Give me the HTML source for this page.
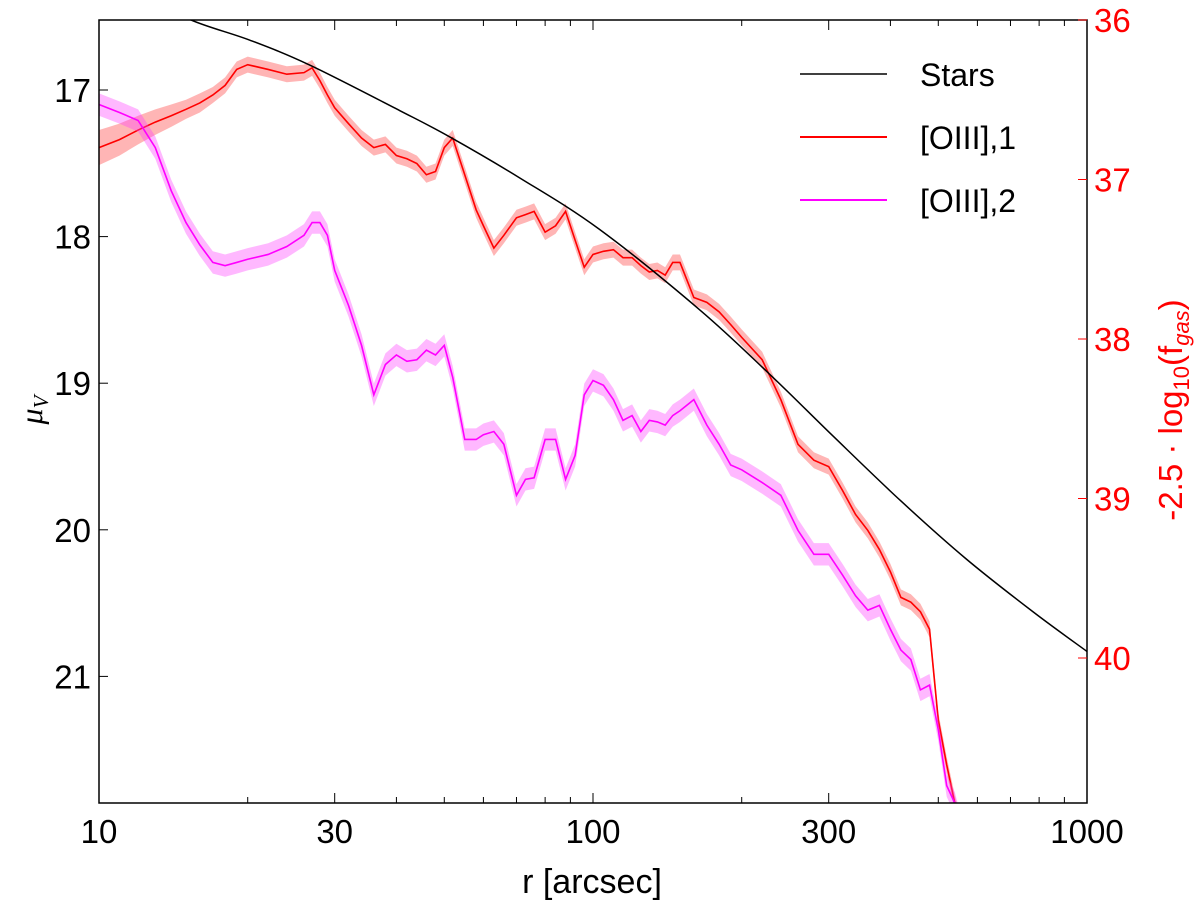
<!DOCTYPE html>
<html><head><meta charset="utf-8"><style>
body{margin:0;background:#fff}
svg{display:block;font-family:"Liberation Sans",sans-serif}
</style></head><body>
<svg id="c" width="1200" height="903"></svg>
<script>
const radii=[10,11,12,13,14,15,16,17,18,19,20,22,24,26,27,28,29,30,32,34,36,38,40,42,44,46,48,50,52,55,58,60,63,66,70,73,76,80,84,88,92,96,100,105,110,115,120,125,130,135,140,145,150,160,170,180,190,200,220,240,260,280,300,320,340,360,380,400,420,440,460,480,500,520,540,560];
const oiii1=[36.80,36.75,36.69,36.64,36.60,36.56,36.52,36.47,36.41,36.31,36.28,36.31,36.34,36.33,36.30,36.38,36.47,36.55,36.65,36.74,36.80,36.78,36.85,36.87,36.90,36.97,36.95,36.80,36.74,36.97,37.19,37.29,37.43,37.35,37.24,37.22,37.20,37.33,37.29,37.20,37.38,37.55,37.47,37.45,37.44,37.49,37.49,37.54,37.58,37.57,37.60,37.52,37.52,37.74,37.77,37.83,37.91,37.99,38.13,38.38,38.66,38.76,38.80,38.95,39.10,39.20,39.32,39.46,39.62,39.65,39.71,39.82,40.39,40.67,40.91,41.1];
const oiii2=[36.53,36.58,36.63,36.80,37.07,37.27,37.41,37.52,37.54,37.52,37.50,37.47,37.42,37.35,37.27,37.27,37.35,37.57,37.79,38.04,38.35,38.16,38.10,38.14,38.13,38.07,38.10,38.04,38.24,38.63,38.63,38.60,38.58,38.66,38.98,38.88,38.87,38.63,38.63,38.88,38.73,38.35,38.26,38.29,38.38,38.51,38.48,38.58,38.51,38.52,38.54,38.48,38.45,38.38,38.54,38.66,38.79,38.82,38.90,38.98,39.20,39.35,39.35,39.48,39.61,39.70,39.67,39.82,39.95,40.01,40.20,40.17,40.45,40.80,40.91,41.1];
const err1=[0.11,0.10,0.09,0.08,0.07,0.06,0.06,0.05,0.05,0.05,0.05,0.05,0.05,0.05,0.05,0.05,0.05,0.05,0.05,0.05,0.05,0.05,0.05,0.05,0.05,0.05,0.05,0.05,0.05,0.05,0.05,0.05,0.05,0.05,0.05,0.05,0.05,0.05,0.05,0.05,0.05,0.05,0.05,0.05,0.05,0.05,0.05,0.05,0.05,0.05,0.05,0.05,0.05,0.05,0.05,0.05,0.05,0.05,0.05,0.05,0.05,0.05,0.05,0.05,0.05,0.05,0.05,0.05,0.05,0.05,0.05,0.05,0.05,0.05,0.05,0.05];
const err2=0.07;
const starR=[12,15.3,20.2,26.7,40.6,51.3,71.1,103,164.5,228,306,419,570,778,1000];
const starMu=[16.33,16.52,16.66,16.83,17.14,17.32,17.60,17.95,18.50,18.94,19.36,19.80,20.20,20.56,20.83];
const xTicks=[10,30,100,300,1000];
const leftTicks=[17,18,19,20,21];
const rightTicks=[36,37,38,39,40];

const L=99,R=1087,T=20,B=803;
const xs=r=>L+(R-L)*(Math.log10(r)-1)/2;
const yl=m=>90+(m-17)*146.6;
const yr=v=>20+(v-36)*159.5;
const NS="http://www.w3.org/2000/svg";
const svg=document.getElementById('c');
function mk(t,a,p){const e=document.createElementNS(NS,t);for(const k in a)e.setAttribute(k,a[k]);(p||svg).appendChild(e);return e;}
const defs=mk('defs',{});const cp=mk('clipPath',{id:'cl'},defs);mk('rect',{x:L,y:T,width:R-L,height:B-T},cp);
const g=mk('g',{'clip-path':'url(#cl)'});
const ev=(e,i)=>Array.isArray(e)?e[i]:e;
function band(vals,err,fill,stroke,name){
  let up=radii.map((r,i)=>xs(r)+','+yr(vals[i]-ev(err,i)));
  let dn=radii.map((r,i)=>xs(r)+','+yr(vals[i]+ev(err,i))).reverse();
  const b=mk('polygon',{points:up.concat(dn).join(' '),fill:fill,'fill-opacity':0.35},g);
  
  
  const l=mk('polyline',{points:radii.map((r,i)=>xs(r)+','+yr(vals[i])).join(' '),fill:'none',stroke:stroke,'stroke-width':1.6},g);
  
  
}
band(oiii1,err1,'#ff2a2a','#ff0000','oiii1');
band(oiii2,err2,'#ff33ff','#ff00ff','oiii2');
const P=starR.map((r,i)=>[xs(r),yl(starMu[i])]);
let d='M'+P[0][0]+','+P[0][1];
for(let i=0;i<P.length-1;i++){const p0=P[Math.max(0,i-1)],p1=P[i],p2=P[i+1],p3=P[Math.min(P.length-1,i+2)];
  d+=' C'+(p1[0]+(p2[0]-p0[0])/6)+','+(p1[1]+(p2[1]-p0[1])/6)+' '+(p2[0]-(p3[0]-p1[0])/6)+','+(p2[1]-(p3[1]-p1[1])/6)+' '+p2[0]+','+p2[1];}
const s=mk('path',{d:d,fill:'none',stroke:'#000','stroke-width':1.5},g);


const f=mk('rect',{x:L,y:T,width:R-L,height:B-T,fill:'none',stroke:'#000','stroke-width':1.5});


for(let dd=10;dd<1000;dd*=10)for(let k=1;k<10;k++){const v=dd*k;const x=xs(v);const big=xTicks.includes(v);
  mk('line',{x1:x,x2:x,y1:B,y2:B-(big?10:6),stroke:'#000'});mk('line',{x1:x,x2:x,y1:T,y2:T+(big?10:6),stroke:'#000'});}
xTicks.forEach(v=>{const t=mk('text',{x:xs(v),y:843,'font-size':33,'text-anchor':'middle'});t.textContent=v;
  
  });
leftTicks.forEach(v=>{const y=yl(v);mk('line',{x1:L,x2:L+9,y1:y,y2:y,stroke:'#000'});
  const t=mk('text',{x:91,y:y+12,'font-size':33,'text-anchor':'end'});t.textContent=v;
  
  });
rightTicks.forEach(v=>{const y=yr(v);mk('line',{x1:R-9,x2:R,y1:y,y2:y,stroke:'#f00'});
  const t=mk('text',{x:1094,y:y+12,'font-size':33,fill:'#f00'});t.textContent=v;
  
  });
</script>
<svg style="position:absolute;left:0;top:0" width="1200" height="903">
<text x="592" y="893" font-size="34" text-anchor="middle" font-family="Liberation Sans">r [arcsec]</text>
<text transform="translate(42,410) rotate(-90)" font-size="32" text-anchor="middle" font-family="Liberation Serif" font-style="italic">μ<tspan font-size="21" dy="6">V</tspan></text>
<text transform="translate(1182,410) rotate(-90)" font-size="33" text-anchor="middle" fill="#f00" font-family="Liberation Sans">-2.5 · log<tspan font-size="22" dy="7">10</tspan><tspan dy="-7">(f</tspan><tspan font-size="22" dy="7" font-style="italic">gas</tspan><tspan dy="-7">)</tspan></text>
<g font-family="Liberation Sans" font-size="32">
<line x1="800" x2="887" y1="74" y2="74" stroke="#000" stroke-width="1.5"/>
<text x="920" y="86">Stars</text>
<line x1="800" x2="887" y1="137" y2="137" stroke="#f00" stroke-width="2"/>
<text x="920" y="149">[OIII],1</text>
<line x1="800" x2="887" y1="200" y2="200" stroke="#f0f" stroke-width="2"/>
<text x="920" y="212">[OIII],2</text>
</g>
</svg>
</body></html>
